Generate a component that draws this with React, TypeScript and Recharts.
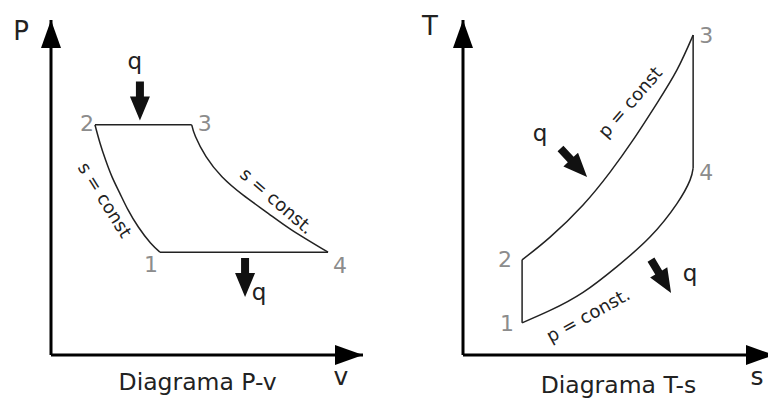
import { ComposedChart, Line, XAxis, YAxis, ReferenceDot } from "recharts";

// Brayton cycle, arbitrary units on both diagrams
const pvStates = [
  { name: "1", v: 3.49, P: 3.07 },
  { name: "2", v: 1.41, P: 6.87 },
  { name: "3", v: 4.51, P: 6.87 },
  { name: "4", v: 8.88, P: 3.07 },
];
// s = const, between 2 and 1
const pvCompression = [
  { v: 1.57, P: 6.33 },
  { v: 1.75, P: 5.82 },
  { v: 1.96, P: 5.31 },
  { v: 2.2, P: 4.84 },
  { v: 2.47, P: 4.33 },
  { v: 2.8, P: 3.82 },
  { v: 3.19, P: 3.34 },
];
// s = const, between 3 and 4
const pvExpansion = [
  { v: 4.63, P: 6.52 },
  { v: 4.97, P: 5.92 },
  { v: 5.48, P: 5.32 },
  { v: 6.15, P: 4.78 },
  { v: 6.96, P: 4.23 },
  { v: 7.72, P: 3.73 },
];

const tsStates = [
  { name: "1", s: 1.9, T: 0.96 },
  { name: "2", s: 1.9, T: 2.84 },
  { name: "3", s: 7.4, T: 9.55 },
  { name: "4", s: 7.4, T: 5.58 },
];
// p = const, between 2 and 3
const tsHeatIn = [
  { s: 2.8, T: 3.52 },
  { s: 3.86, T: 4.48 },
  { s: 4.73, T: 5.46 },
  { s: 5.47, T: 6.42 },
  { s: 6.24, T: 7.52 },
  { s: 6.88, T: 8.51 },
];
// p = const, between 1 and 4
const tsHeatOut = [
  { s: 2.8, T: 1.33 },
  { s: 3.86, T: 1.87 },
  { s: 4.95, T: 2.64 },
  { s: 6.01, T: 3.52 },
  { s: 6.88, T: 4.52 },
  { s: 7.3, T: 5.22 },
];

const FONT = "DejaVu Sans";
const INK = "#222";
const GREY = "#8c8c8c";

function pick<T extends { name: string }>(list: T[], name: string): T {
  return list.find((p) => p.name === name)!;
}

const axisHead = (angle: number) => (p: any) => (
  <polygon
    points="0,0 -28,-10 -28,10"
    fill="#000"
    transform={`translate(${p.cx},${p.cy}) rotate(${angle})`}
  />
);

const heatArrow = (angle: number) => (p: any) => (
  <polygon
    points="0,0 -24,-10 -24,-4 -39,-4 -39,4 -24,4 -24,10"
    fill="#111"
    transform={`translate(${p.cx},${p.cy}) rotate(${angle})`}
  />
);

type NoteOpts = {
  dx?: number;
  dy?: number;
  rotate?: number;
  size?: number;
  anchor?: "start" | "middle" | "end";
  fill?: string;
  center?: boolean;
};

const note = (text: string, o: NoteOpts = {}) => (p: any) => (
  <text
    transform={`translate(${p.cx + (o.dx ?? 0)},${p.cy + (o.dy ?? 0)}) rotate(${o.rotate ?? 0})`}
    textAnchor={o.anchor ?? "middle"}
    dy={o.center ? "0.35em" : undefined}
    fontSize={o.size ?? 18}
    fontFamily={FONT}
    fill={o.fill ?? INK}
  >
    {text}
  </text>
);

const stroke = { stroke: INK, strokeWidth: 1.5, dot: false, isAnimationActive: false } as const;
// axes need a 1px band or CartesianAxis skips drawing them
const axisLine = { stroke: "#000", strokeWidth: 3 };

function PvDiagram() {
  const s1 = pick(pvStates, "1");
  const s2 = pick(pvStates, "2");
  const s3 = pick(pvStates, "3");
  const s4 = pick(pvStates, "4");
  const tags: Record<string, NoteOpts> = {
    "1": { dx: -2, dy: 20, anchor: "end" },
    "2": { dx: -1, dy: 6, anchor: "end" },
    "3": { dx: 6, dy: 6, anchor: "start" },
    "4": { dx: 5, dy: 21, anchor: "start" },
  };
  return (
    <ComposedChart width={384} height={401} margin={{ top: 20, right: 21, bottom: 45, left: 50 }}>
      <XAxis type="number" dataKey="v" domain={[0, 10]} height={1} tick={false} tickLine={false} axisLine={axisLine} />
      <YAxis type="number" dataKey="P" domain={[0, 10]} width={1} tick={false} tickLine={false} axisLine={axisLine} />
      <Line data={[s2, ...pvCompression, s1]} dataKey="P" type="natural" {...stroke} />
      <Line data={[s3, ...pvExpansion, s4]} dataKey="P" type="natural" {...stroke} />
      <Line data={[s2, s3]} dataKey="P" type="linear" {...stroke} />
      <Line data={[s1, s4]} dataKey="P" type="linear" {...stroke} />

      <ReferenceDot x={0} y={10} shape={axisHead(-90)} />
      <ReferenceDot x={10} y={0} shape={axisHead(0)} />
      <ReferenceDot x={0} y={10} shape={note("P", { dx: -30, dy: 20, size: 26 })} />
      <ReferenceDot x={10} y={0} shape={note("v", { dx: -22, dy: 30, size: 25 })} />
      <ReferenceDot x={4.7} y={0} shape={note("Diagrama P-v", { dy: 35, size: 23.5 })} />

      {pvStates.map((st) => (
        <ReferenceDot key={st.name} x={st.v} y={st.P} shape={note(st.name, { ...tags[st.name], size: 22, fill: GREY })} />
      ))}

      <ReferenceDot x={2.85} y={7.0} shape={heatArrow(90)} />
      <ReferenceDot x={2.85} y={7.0} shape={note("q", { dx: -5, dy: -52, size: 23 })} />
      <ReferenceDot x={6.22} y={1.73} shape={heatArrow(90)} />
      <ReferenceDot x={6.22} y={1.73} shape={note("q", { dx: 14, dy: 3, size: 23 })} />

      <ReferenceDot x={1.73} y={4.63} shape={note("s = const", { rotate: 58, center: true })} />
      <ReferenceDot x={7.24} y={4.6} shape={note("s = const.", { rotate: 41, center: true })} />
    </ComposedChart>
  );
}

function TsDiagram() {
  const s1 = pick(tsStates, "1");
  const s2 = pick(tsStates, "2");
  const s3 = pick(tsStates, "3");
  const s4 = pick(tsStates, "4");
  const tags: Record<string, NoteOpts> = {
    "1": { dx: -8, dy: 8, anchor: "end" },
    "2": { dx: -10, dy: 7, anchor: "end" },
    "3": { dx: 6, dy: 8, anchor: "start" },
    "4": { dx: 6, dy: 12, anchor: "start" },
  };
  return (
    <ComposedChart width={410} height={401} margin={{ top: 20, right: 20, bottom: 45, left: 78 }}>
      <XAxis type="number" dataKey="s" domain={[0, 10]} height={1} tick={false} tickLine={false} axisLine={axisLine} />
      <YAxis type="number" dataKey="T" domain={[0, 10]} width={1} tick={false} tickLine={false} axisLine={axisLine} />
      <Line data={[s2, ...tsHeatIn, s3]} dataKey="T" type="natural" {...stroke} />
      <Line data={[s1, ...tsHeatOut, s4]} dataKey="T" type="natural" {...stroke} />
      <Line data={[s1, s2]} dataKey="T" type="linear" {...stroke} />
      <Line data={[s4, s3]} dataKey="T" type="linear" {...stroke} />

      <ReferenceDot x={0} y={10} shape={axisHead(-90)} />
      <ReferenceDot x={10} y={0} shape={axisHead(0)} />
      <ReferenceDot x={0} y={10} shape={note("T", { dx: -33, dy: 15, size: 26 })} />
      <ReferenceDot x={10} y={0} shape={note("s", { dx: -17, dy: 30, size: 25 })} />
      <ReferenceDot x={5} y={0} shape={note("Diagrama T-s", { dy: 38, size: 23.5 })} />

      {tsStates.map((st) => (
        <ReferenceDot key={st.name} x={st.s} y={st.T} shape={note(st.name, { ...tags[st.name], size: 22, fill: GREY })} />
      ))}

      <ReferenceDot x={3.99} y={5.31} shape={heatArrow(47)} />
      <ReferenceDot x={3.99} y={5.31} shape={note("q", { dx: -47, dy: -36, size: 23 })} />
      <ReferenceDot x={6.69} y={1.85} shape={heatArrow(59)} />
      <ReferenceDot x={6.69} y={1.85} shape={note("q", { dx: 19, dy: -12, size: 23 })} />

      <ReferenceDot x={5.37} y={7.55} shape={note("p = const", { rotate: -49, center: true })} />
      <ReferenceDot x={4.02} y={1.19} shape={note("p = const.", { rotate: -29, center: true })} />
    </ComposedChart>
  );
}

export default function App() {
  return (
    <div style={{ position: "absolute", left: 0, top: 0, width: 768, height: 401, overflow: "hidden", background: "#fff" }}>
      <div style={{ position: "absolute", left: 0, top: 0 }}>
        <PvDiagram />
      </div>
      <div style={{ position: "absolute", left: 384, top: 0 }}>
        <TsDiagram />
      </div>
    </div>
  );
}
